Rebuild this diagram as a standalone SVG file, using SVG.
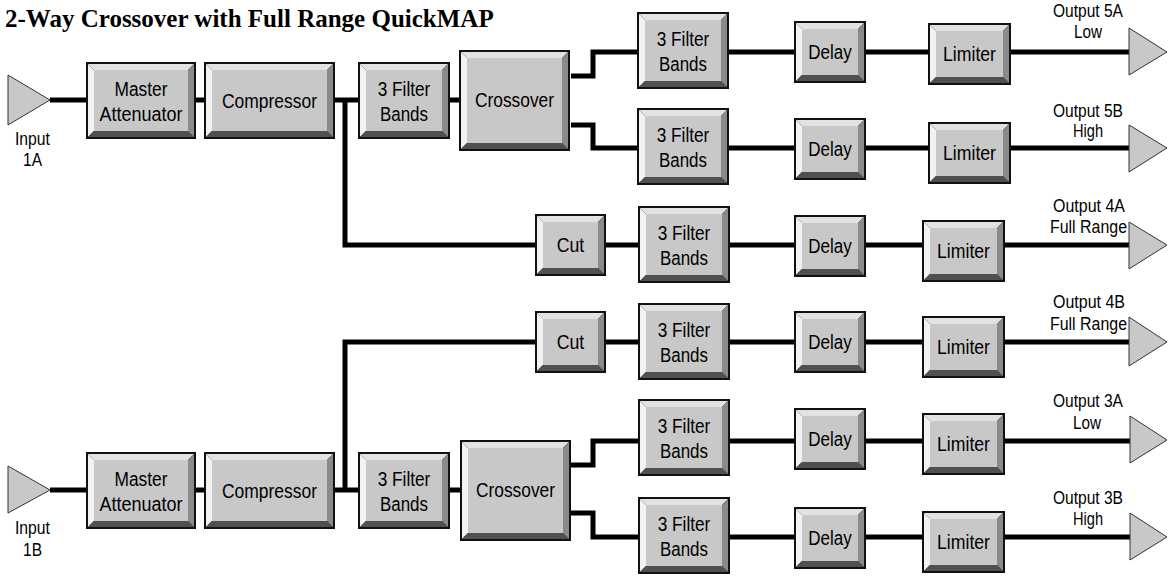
<svg xmlns="http://www.w3.org/2000/svg" xmlns:xlink="http://www.w3.org/1999/xlink" width="1168" height="576" viewBox="0 0 1168 576">
<style>
.title{font-family:"Liberation Serif","Times New Roman",serif;font-weight:bold;font-size:25px;fill:#000}
.lbl{font-family:"Liberation Sans",Arial,sans-serif;font-size:20px;fill:#000;text-anchor:middle}
.sm{font-family:"Liberation Sans",Arial,sans-serif;font-size:17.5px;fill:#000;text-anchor:middle}
.wire{fill:none;stroke:#000;stroke-width:5;stroke-linejoin:miter}
.tri{fill:#c8c8c8;stroke:#333;stroke-width:1}
.o{fill:#111}.t{fill:#e2e2e2}.l{fill:#f2f2f2}.b{fill:#505050}.r{fill:#8a8a8a}.f{fill:#c8c8c8}
</style>
<defs>
<g id="box-ma"><rect class="o" width="110" height="77"/><polygon class="t" points="2,2 108,2 102,8 8,8"/><polygon class="l" points="2,2 8,8 8,69 2,75"/><polygon class="b" points="2,75 8,69 102,69 108,75"/><polygon class="r" points="108,2 108,75 102,69 102,8"/><rect class="f" x="8" y="8" width="94" height="61"/></g>
<g id="box-comp"><rect class="o" width="131" height="77"/><polygon class="t" points="2,2 129,2 123,8 8,8"/><polygon class="l" points="2,2 8,8 8,69 2,75"/><polygon class="b" points="2,75 8,69 123,69 129,75"/><polygon class="r" points="129,2 129,75 123,69 123,8"/><rect class="f" x="8" y="8" width="115" height="61"/></g>
<g id="box-fb"><rect class="o" width="92" height="77"/><polygon class="t" points="2,2 90,2 84,8 8,8"/><polygon class="l" points="2,2 8,8 8,69 2,75"/><polygon class="b" points="2,75 8,69 84,69 90,75"/><polygon class="r" points="90,2 90,75 84,69 84,8"/><rect class="f" x="8" y="8" width="76" height="61"/></g>
<g id="box-xo"><rect class="o" width="111" height="101"/><polygon class="t" points="2,2 109,2 103,8 8,8"/><polygon class="l" points="2,2 8,8 8,93 2,99"/><polygon class="b" points="2,99 8,93 103,93 109,99"/><polygon class="r" points="109,2 109,99 103,93 103,8"/><rect class="f" x="8" y="8" width="95" height="85"/></g>
<g id="box-dl"><rect class="o" width="72" height="62"/><polygon class="t" points="2,2 70,2 64,8 8,8"/><polygon class="l" points="2,2 8,8 8,54 2,60"/><polygon class="b" points="2,60 8,54 64,54 70,60"/><polygon class="r" points="70,2 70,60 64,54 64,8"/><rect class="f" x="8" y="8" width="56" height="46"/></g>
<g id="box-lm"><rect class="o" width="83" height="62"/><polygon class="t" points="2,2 81,2 75,8 8,8"/><polygon class="l" points="2,2 8,8 8,54 2,60"/><polygon class="b" points="2,60 8,54 75,54 81,60"/><polygon class="r" points="81,2 81,60 75,54 75,8"/><rect class="f" x="8" y="8" width="67" height="46"/></g>
<g id="box-cut"><rect class="o" width="71" height="62"/><polygon class="t" points="2,2 69,2 63,8 8,8"/><polygon class="l" points="2,2 8,8 8,54 2,60"/><polygon class="b" points="2,60 8,54 63,54 69,60"/><polygon class="r" points="69,2 69,60 63,54 63,8"/><rect class="f" x="8" y="8" width="55" height="46"/></g>
</defs>

<text class="title" x="5" y="27">2-Way Crossover with Full Range QuickMAP</text>

<g id="connectors">
<path class="wire" d="M50,100 H86 M196,100 H204 M335,100 H358 M449,100 H459"/>
<path class="wire" d="M345,100 V245 H535 M606,245 H638 M729,245 H794 M866,245 H922 M1005,245 H1129"/>
<path class="wire" d="M571,76 H593 V52 H637 M729,52 H794 M866,52 H928 M1011,52 H1129"/>
<path class="wire" d="M571,125 H593 V148 H637 M729,148 H794 M866,148 H928 M1011,148 H1129"/>
<path class="wire" d="M345,490 V342 H535 M606,342 H638 M729,342 H794 M866,342 H922 M1005,342 H1129"/>
<path class="wire" d="M50,490 H86 M196,490 H204 M335,490 H358 M449,490 H460"/>
<path class="wire" d="M570,465 H593 V441 H638 M729,441 H794 M866,441 H922 M1004,441 H1130"/>
<path class="wire" d="M570,513 H593 V537 H638 M729,537 H794 M866,537 H922 M1004,537 H1130"/>
</g>

<g id="input-1a"><polygon class="tri" points="8,75 50,100 8,125"/><text class="sm" x="32.5" y="145" textLength="35" lengthAdjust="spacingAndGlyphs">Input</text><text class="sm" x="32.5" y="166" textLength="19" lengthAdjust="spacingAndGlyphs">1A</text></g>
<g id="input-1b"><polygon class="tri" points="8,466 50,490 8,513"/><text class="sm" x="32.5" y="534" textLength="35" lengthAdjust="spacingAndGlyphs">Input</text><text class="sm" x="32.5" y="556" textLength="19" lengthAdjust="spacingAndGlyphs">1B</text></g>

<g id="master-att-1"><use xlink:href="#box-ma" x="86" y="62"/><text class="lbl" x="141" y="96" textLength="53" lengthAdjust="spacingAndGlyphs">Master</text><text class="lbl" x="141" y="121" textLength="83" lengthAdjust="spacingAndGlyphs">Attenuator</text></g>
<g id="compressor-1"><use xlink:href="#box-comp" x="204" y="62"/><text class="lbl" x="269.5" y="108" textLength="95" lengthAdjust="spacingAndGlyphs">Compressor</text></g>
<g id="filter-1"><use xlink:href="#box-fb" x="358" y="62"/><text class="lbl" x="404" y="96" textLength="52.5" lengthAdjust="spacingAndGlyphs">3 Filter</text><text class="lbl" x="404" y="121" textLength="48" lengthAdjust="spacingAndGlyphs">Bands</text></g>
<g id="crossover-1"><use xlink:href="#box-xo" x="459" y="50"/><text class="lbl" x="514.5" y="107" textLength="79" lengthAdjust="spacingAndGlyphs">Crossover</text></g>

<g id="filter-5a"><use xlink:href="#box-fb" x="637" y="12"/><text class="lbl" x="683" y="46" textLength="52.5" lengthAdjust="spacingAndGlyphs">3 Filter</text><text class="lbl" x="683" y="71" textLength="48" lengthAdjust="spacingAndGlyphs">Bands</text></g>
<g id="delay-5a"><use xlink:href="#box-dl" x="794" y="21"/><text class="lbl" x="830" y="59" textLength="43.5" lengthAdjust="spacingAndGlyphs">Delay</text></g>
<g id="limiter-5a"><use xlink:href="#box-lm" x="928" y="23"/><text class="lbl" x="969.5" y="61" textLength="53" lengthAdjust="spacingAndGlyphs">Limiter</text></g>
<g id="output-5a"><polygon class="tri" points="1129,28 1167,52 1129,75"/><text class="sm" x="1088" y="17" textLength="70" lengthAdjust="spacingAndGlyphs">Output 5A</text><text class="sm" x="1088" y="38" textLength="28" lengthAdjust="spacingAndGlyphs">Low</text></g>

<g id="filter-5b"><use xlink:href="#box-fb" x="637" y="108"/><text class="lbl" x="683" y="142" textLength="52.5" lengthAdjust="spacingAndGlyphs">3 Filter</text><text class="lbl" x="683" y="167" textLength="48" lengthAdjust="spacingAndGlyphs">Bands</text></g>
<g id="delay-5b"><use xlink:href="#box-dl" x="794" y="118"/><text class="lbl" x="830" y="156" textLength="43.5" lengthAdjust="spacingAndGlyphs">Delay</text></g>
<g id="limiter-5b"><use xlink:href="#box-lm" x="928" y="122"/><text class="lbl" x="969.5" y="160" textLength="53" lengthAdjust="spacingAndGlyphs">Limiter</text></g>
<g id="output-5b"><polygon class="tri" points="1129,125 1167,148 1129,172"/><text class="sm" x="1088" y="117" textLength="70" lengthAdjust="spacingAndGlyphs">Output 5B</text><text class="sm" x="1088" y="137" textLength="30" lengthAdjust="spacingAndGlyphs">High</text></g>

<g id="cut-4a"><use xlink:href="#box-cut" x="535" y="214"/><text class="lbl" x="570.5" y="252" textLength="27.5" lengthAdjust="spacingAndGlyphs">Cut</text></g>
<g id="filter-4a"><use xlink:href="#box-fb" x="638" y="206"/><text class="lbl" x="684" y="240" textLength="52.5" lengthAdjust="spacingAndGlyphs">3 Filter</text><text class="lbl" x="684" y="265" textLength="48" lengthAdjust="spacingAndGlyphs">Bands</text></g>
<g id="delay-4a"><use xlink:href="#box-dl" x="794" y="215"/><text class="lbl" x="830" y="253" textLength="43.5" lengthAdjust="spacingAndGlyphs">Delay</text></g>
<g id="limiter-4a"><use xlink:href="#box-lm" x="922" y="220"/><text class="lbl" x="963.5" y="258" textLength="53" lengthAdjust="spacingAndGlyphs">Limiter</text></g>
<g id="output-4a"><polygon class="tri" points="1129,222 1167,245 1129,269"/><text class="sm" x="1089" y="212" textLength="72" lengthAdjust="spacingAndGlyphs">Output 4A</text><text class="sm" x="1088.5" y="233" textLength="77" lengthAdjust="spacingAndGlyphs">Full Range</text></g>

<g id="cut-4b"><use xlink:href="#box-cut" x="535" y="311"/><text class="lbl" x="570.5" y="349" textLength="27.5" lengthAdjust="spacingAndGlyphs">Cut</text></g>
<g id="filter-4b"><use xlink:href="#box-fb" x="638" y="303"/><text class="lbl" x="684" y="337" textLength="52.5" lengthAdjust="spacingAndGlyphs">3 Filter</text><text class="lbl" x="684" y="362" textLength="48" lengthAdjust="spacingAndGlyphs">Bands</text></g>
<g id="delay-4b"><use xlink:href="#box-dl" x="794" y="311"/><text class="lbl" x="830" y="349" textLength="43.5" lengthAdjust="spacingAndGlyphs">Delay</text></g>
<g id="limiter-4b"><use xlink:href="#box-lm" x="922" y="316"/><text class="lbl" x="963.5" y="354" textLength="53" lengthAdjust="spacingAndGlyphs">Limiter</text></g>
<g id="output-4b"><polygon class="tri" points="1129,317 1167,342 1129,366"/><text class="sm" x="1089" y="308" textLength="72" lengthAdjust="spacingAndGlyphs">Output 4B</text><text class="sm" x="1088.5" y="330" textLength="77" lengthAdjust="spacingAndGlyphs">Full Range</text></g>

<g id="master-att-2"><use xlink:href="#box-ma" x="86" y="452"/><text class="lbl" x="141" y="486" textLength="53" lengthAdjust="spacingAndGlyphs">Master</text><text class="lbl" x="141" y="511" textLength="83" lengthAdjust="spacingAndGlyphs">Attenuator</text></g>
<g id="compressor-2"><use xlink:href="#box-comp" x="204" y="452"/><text class="lbl" x="269.5" y="498" textLength="95" lengthAdjust="spacingAndGlyphs">Compressor</text></g>
<g id="filter-2"><use xlink:href="#box-fb" x="358" y="452"/><text class="lbl" x="404" y="486" textLength="52.5" lengthAdjust="spacingAndGlyphs">3 Filter</text><text class="lbl" x="404" y="511" textLength="48" lengthAdjust="spacingAndGlyphs">Bands</text></g>
<g id="crossover-2"><use xlink:href="#box-xo" x="460" y="440"/><text class="lbl" x="515.5" y="497" textLength="79" lengthAdjust="spacingAndGlyphs">Crossover</text></g>

<g id="filter-3a"><use xlink:href="#box-fb" x="638" y="399"/><text class="lbl" x="684" y="433" textLength="52.5" lengthAdjust="spacingAndGlyphs">3 Filter</text><text class="lbl" x="684" y="458" textLength="48" lengthAdjust="spacingAndGlyphs">Bands</text></g>
<g id="delay-3a"><use xlink:href="#box-dl" x="794" y="408"/><text class="lbl" x="830" y="446" textLength="43.5" lengthAdjust="spacingAndGlyphs">Delay</text></g>
<g id="limiter-3a"><use xlink:href="#box-lm" x="922" y="413"/><text class="lbl" x="963.5" y="451" textLength="53" lengthAdjust="spacingAndGlyphs">Limiter</text></g>
<g id="output-3a"><polygon class="tri" points="1130,416 1167,440 1130,463"/><text class="sm" x="1088" y="407" textLength="70" lengthAdjust="spacingAndGlyphs">Output 3A</text><text class="sm" x="1087" y="429" textLength="28" lengthAdjust="spacingAndGlyphs">Low</text></g>

<g id="filter-3b"><use xlink:href="#box-fb" x="638" y="497"/><text class="lbl" x="684" y="531" textLength="52.5" lengthAdjust="spacingAndGlyphs">3 Filter</text><text class="lbl" x="684" y="556" textLength="48" lengthAdjust="spacingAndGlyphs">Bands</text></g>
<g id="delay-3b"><use xlink:href="#box-dl" x="794" y="507"/><text class="lbl" x="830" y="545" textLength="43.5" lengthAdjust="spacingAndGlyphs">Delay</text></g>
<g id="limiter-3b"><use xlink:href="#box-lm" x="922" y="511"/><text class="lbl" x="963.5" y="549" textLength="53" lengthAdjust="spacingAndGlyphs">Limiter</text></g>
<g id="output-3b"><polygon class="tri" points="1130,513 1167,537 1130,560"/><text class="sm" x="1088" y="504" textLength="70" lengthAdjust="spacingAndGlyphs">Output 3B</text><text class="sm" x="1088" y="525" textLength="30" lengthAdjust="spacingAndGlyphs">High</text></g>
</svg>
